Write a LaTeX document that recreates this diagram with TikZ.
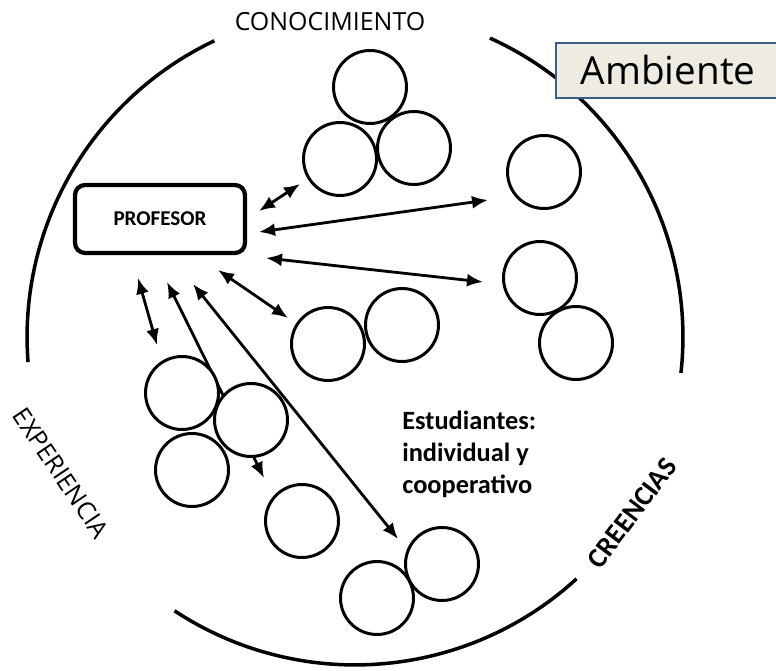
\documentclass[tikz,border=0pt]{standalone}
\usepackage{fontspec}
\setmainfont{Carlito}
\newfontfamily\segoe{Open Sans}
\usetikzlibrary{arrows.meta}

\begin{document}
\begin{tikzpicture}[x=0.02cm, y=-0.02cm,
    student/.style={circle, draw=black, fill=white, line width=1.7pt, minimum size=1.46cm, inner sep=0pt},
    link/.style={{Latex[length=0.32cm,width=0.26cm]}-{Latex[length=0.32cm,width=0.26cm]}, line width=1.6pt},
    ringlabel/.style={inner sep=0pt, font=\segoe\fontsize{14.2}{17}\selectfont}]
    \useasboundingbox (0,0) rectangle (776,671);
    % Draw the classroom circle, leaving gaps where the labels sit.
    \coordinate (centre) at (355,337);
    \draw[line width=2pt] (centre) ++(-123.4:6.56cm) arc[start angle=-123.4, end angle=-47.5, radius=6.56cm];
    \draw[line width=2pt] (centre) ++(115.4:6.56cm) arc[start angle=115.4, end angle=184.4, radius=6.56cm];
    \draw[line width=2pt] (centre) ++(-6.3:6.56cm) arc[start angle=-6.3, end angle=65.7, radius=6.56cm];
    % End points of the teacher-student links.
    \coordinate (a1s) at (259,211);  \coordinate (a1e) at (300,184);
    \coordinate (a2s) at (259,232);  \coordinate (a2e) at (488,200);
    \coordinate (a3s) at (266,258);  \coordinate (a3e) at (483,282);
    \coordinate (a4s) at (218,270);  \coordinate (a4e) at (288,318);
    \coordinate (a5s) at (138,278);  \coordinate (a5e) at (157,345);
    \coordinate (a6s) at (167,282);  \coordinate (a6e) at (264,478);
    \coordinate (a7s) at (193,284);  \coordinate (a7e) at (398,539);
    % Draw the links (the circles are drawn on top of them).
    \foreach \n in {1,...,7}
        \draw[link] (a\n s) -- (a\n e);
    % Draw the students.
    \node[student] (k2) at (340,159) {};
    \node[student] (k3) at (414,148) {};
    \node[student] (k1) at (370,87) {};
    \node[student] (r1) at (544,172) {};
    \node[student] (r3) at (576,343) {};
    \node[student] (r2) at (540,278) {};
    \node[student] (m1) at (328,344) {};
    \node[student] (m2) at (402,325) {};
    \node[student] (e1) at (182,393) {};
    \node[student] (e3) at (192,470) {};
    \node[student] (e2) at (251,420) {};
    \node[student] (s1) at (302,521) {};
    \node[student] (b2) at (442,564) {};
    \node[student] (b1) at (377,598) {};
    % Draw the teacher.
    \node[draw=black, fill=white, line width=2.4pt, rounded corners=0.2cm, minimum width=3.4cm, minimum height=1.36cm,
        font=\bfseries\fontsize{12}{14}\selectfont] (prof) at (160,219) {PROFESOR};
    % Labels round the circle.
    \node[ringlabel] (conoc) at (330,22) {CONOCIMIENTO};
    \node[ringlabel, rotate=-56] (exper) at (61,473) {EXPERIENCIA};
    \node[inner sep=0pt, rotate=53, font=\bfseries\fontsize{16}{19}\selectfont] (creen) at (632,513) {CREENCIAS};
    \node[draw={rgb,255:red,56;green,93;blue,138}, fill={rgb,255:red,238;green,236;blue,225}, line width=0.9pt,
        minimum width=4.48cm, minimum height=1.1cm, font=\segoe\fontsize{22}{26}\selectfont] (amb) at (668,70.5) {Ambiente};
    \node[anchor=north west, inner sep=0pt, align=left, font=\bfseries\fontsize{15}{18.2}\selectfont] (estud) at (402,411)
        {Estudiantes:\\individual y\\cooperativo};
\end{tikzpicture}
\end{document}
